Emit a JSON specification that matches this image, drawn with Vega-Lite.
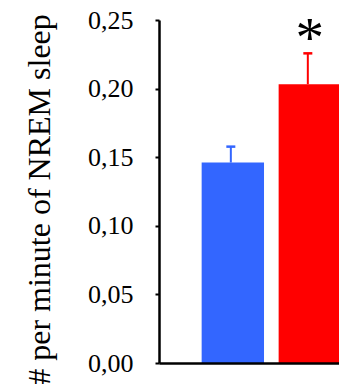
{
  "$schema": "https://vega.github.io/schema/vega-lite/v6.json",
  "autosize": {"type": "none"},
  "padding": {"left": 159, "top": 20, "right": 0, "bottom": 21},
  "width": 182,
  "height": 343,
  "background": "white",
  "config": {"view": {"stroke": null}},
  "data": {"values": [
    {"group": "Control", "mean": 0.1461, "upper": 0.1577, "sig": ""},
    {"group": "Treatment", "mean": 0.2032, "upper": 0.2257, "sig": "*"}
  ]},
  "encoding": {
    "x": {
      "field": "group", "type": "nominal", "sort": null,
      "scale": {"paddingInner": 0.19, "paddingOuter": 0.277, "align": 1},
      "axis": {"title": null, "labels": false, "ticks": false, "domain": true, "domainColor": "black", "domainWidth": 2.5, "zindex": 2, "grid": false}
    },
    "color": {
      "field": "group", "type": "nominal",
      "scale": {"domain": ["Control", "Treatment"], "range": ["#3366FF", "#FF0000"]},
      "legend": null
    }
  },
  "layer": [
    {
      "mark": {"type": "bar", "opacity": 1},
      "encoding": {
        "y": {
          "field": "mean", "type": "quantitative",
          "scale": {"domain": [0, 0.25], "nice": false, "zero": true},
          "axis": {
            "values": [0, 0.05, 0.1, 0.15, 0.2, 0.25],
            "labelExpr": "replace(format(datum.value, '.2f'), '.', ',')",
            "labelFont": "Liberation Serif", "labelFontSize": 26, "labelColor": "black",
            "labelPadding": 22, "labelBaseline": "middle",
            "tickColor": "black", "tickWidth": 2, "tickSize": 4,
            "domainColor": "black", "domainWidth": 2.5,
            "grid": false, "zindex": 2,
            "title": "# per minute of NREM sleep",
            "titleFont": "Liberation Serif", "titleFontSize": 32, "titleFontWeight": "normal",
            "titleColor": "black", "titleAngle": -90, "titleAlign": "center",
            "titleBaseline": "alphabetic", "titleX": -110, "titleY": 179
          }
        }
      }
    },
    {
      "mark": {"type": "rule", "strokeWidth": 2, "xOffset": -2},
      "encoding": {
        "y": {"field": "mean", "type": "quantitative"},
        "y2": {"field": "upper"}
      }
    },
    {
      "mark": {"type": "tick", "orient": "horizontal", "size": 9, "thickness": 2.5, "xOffset": -2, "opacity": 1},
      "encoding": {
        "y": {"field": "upper", "type": "quantitative"}
      }
    },
    {
      "mark": {"type": "text", "font": "Liberation Serif", "fontSize": 57, "color": "black", "baseline": "alphabetic", "align": "center", "dy": 4, "dx": 0},
      "encoding": {
        "y": {"field": "upper", "type": "quantitative"},
        "text": {"field": "sig"},
        "color": {"value": "black"}
      }
    }
  ]
}
